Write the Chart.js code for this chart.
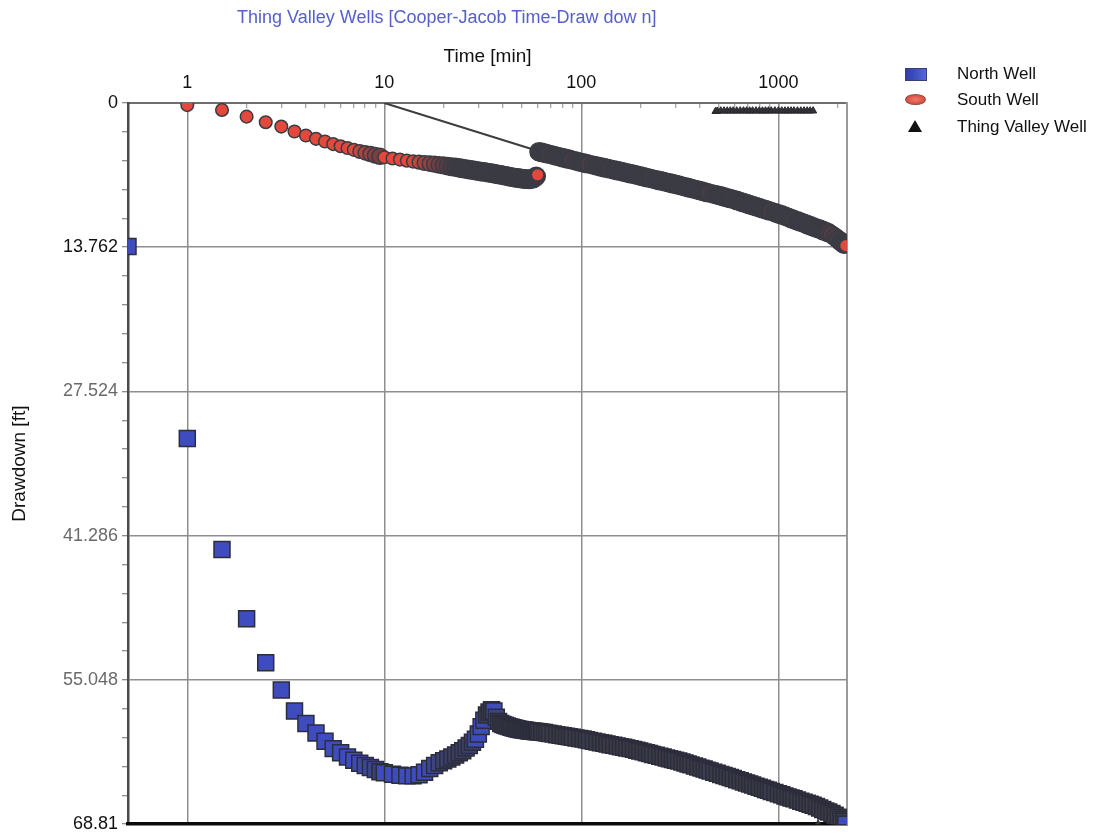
<!DOCTYPE html>
<html>
<head>
<meta charset="utf-8">
<script src="https://cdn.jsdelivr.net/npm/chart.js@4.4.0/dist/chart.umd.min.js"></script>
<style>
  body { margin: 0; background: #fff; font-family: "Liberation Sans", Arial, sans-serif; }
  #wrap { position: relative; width: 1117px; height: 837px; }
  #title { position: absolute; left: 237px; top: 7px; font-size: 18px; color: #5560cc; white-space: nowrap; }
  .item { position: absolute; left: 957px; font-size: 17px; color: #111; white-space: nowrap; line-height: 20px; }
  .mark { position: absolute; }
</style>
</head>
<body>
<div id="wrap">
  <canvas id="chart"></canvas>
  <div id="title">Thing Valley Wells [Cooper-Jacob Time-Draw dow n]</div>
  <div id="legend"></div>
</div>
<script>
// time in minutes (same sampling for North and South wells)
const times = [0.5, 1, 1.5, 2, 2.5, 3, 3.5, 4, 4.5, 5, 5.5, 6, 6.5, 7, 7.5, 8, 8.5, 9, 9.5, 10,
  11, 12, 13, 14, 15, 16, 17, 18, 19, 20, 21, 22, 23, 24, 25, 26, 27, 28, 29, 30,
  31, 32, 33, 34, 35, 36, 37, 38, 39, 40, 41, 42, 43, 44, 45, 46, 47, 48, 49, 50,
  51, 52, 53, 54, 55, 56, 57, 58, 59, 60,
  61, 63, 65, 67, 69, 72, 75, 78, 81, 84, 87, 90, 94, 98, 102, 106, 110, 115, 120, 125,
  130, 135, 140, 146, 152, 158, 164, 170, 177, 184, 191, 198, 206, 214, 222, 230, 240, 250, 260, 270,
  280, 290, 300, 312, 324, 336, 348, 360, 375, 390, 405, 420, 435, 450, 470, 490, 510, 530, 550, 570,
  590, 615, 640, 665, 690, 715, 740, 770, 800, 830, 860, 890, 920, 960, 1000, 1040, 1080, 1120, 1160, 1200,
  1250, 1300, 1350, 1400, 1450, 1500, 1560, 1620, 1680, 1740, 1800, 1870, 1940, 2010, 2080, 2150, 2200];

const northDrawdown = [13.7, 32.0, 42.6, 49.2, 53.4, 56.0, 58.0, 59.2, 60.1, 60.9, 61.6, 62.0, 62.4, 62.7, 63.0, 63.2, 63.4, 63.6, 63.8, 63.9,
  64.05, 64.15, 64.2, 64.2, 64.1, 63.85, 63.5, 63.2, 62.95, 62.75, 62.6, 62.4, 62.2, 62.0, 61.8, 61.55, 61.3, 61.0, 60.7, 60.2,
  59.5, 58.9, 58.4, 58.1, 57.9, 58.0, 58.6, 59.0, 59.2, 59.3, 59.37, 59.45, 59.5, 59.55, 59.6, 59.65, 59.7, 59.75, 59.78, 59.8,
  59.83, 59.85, 59.88, 59.9, 59.92, 59.93, 59.95, 59.96, 59.97, 59.98,
  60.0, 60.03, 60.07, 60.12, 60.16, 60.21, 60.27, 60.32, 60.37, 60.42, 60.47, 60.52, 60.58, 60.64, 60.69, 60.76, 60.82, 60.89, 60.96, 61.03,
  61.09, 61.15, 61.22, 61.28, 61.35, 61.41, 61.47, 61.53, 61.6, 61.67, 61.76, 61.83, 61.91, 62.0, 62.07, 62.15, 62.23, 62.32, 62.4, 62.49,
  62.56, 62.64, 62.71, 62.79, 62.88, 62.97, 63.07, 63.15, 63.26, 63.36, 63.46, 63.55, 63.65, 63.73, 63.85, 63.95, 64.06, 64.16, 64.26, 64.35,
  64.45, 64.56, 64.66, 64.78, 64.87, 64.98, 65.07, 65.18, 65.29, 65.39, 65.49, 65.58, 65.68, 65.79, 65.91, 66.01, 66.11, 66.21, 66.3, 66.39,
  66.5, 66.61, 66.71, 66.81, 66.9, 67.0, 67.13, 67.27, 67.4, 67.54, 67.65, 67.79, 67.96, 68.15, 68.34, 68.52, 68.81];

const southDrawdown = [null, 0.2, 0.66, 1.3, 1.83, 2.25, 2.72, 3.1, 3.42, 3.67, 3.92, 4.12, 4.3, 4.47, 4.62, 4.75, 4.87, 4.98, 5.08, 5.18,
  5.3, 5.4, 5.5, 5.58, 5.65, 5.72, 5.78, 5.84, 5.9, 5.96, 6.02, 6.08, 6.14, 6.19, 6.25, 6.3, 6.35, 6.4, 6.45, 6.5,
  6.54, 6.58, 6.62, 6.66, 6.7, 6.74, 6.78, 6.82, 6.86, 6.9, 6.94, 6.98, 7.02, 7.06, 7.09, 7.12, 7.15, 7.17, 7.2, 7.22,
  7.24, 7.26, 7.27, 7.28, 7.28, 7.25, 7.2, 7.12, 7.0, 6.85,
  4.65, 4.72, 4.78, 4.84, 4.9, 4.99, 5.08, 5.15, 5.24, 5.31, 5.38, 5.45, 5.54, 5.63, 5.7, 5.77, 5.85, 5.93, 6.01, 6.09,
  6.16, 6.23, 6.3, 6.38, 6.45, 6.52, 6.6, 6.66, 6.74, 6.81, 6.88, 6.95, 7.03, 7.11, 7.18, 7.25, 7.33, 7.41, 7.48, 7.56,
  7.63, 7.7, 7.76, 7.84, 7.92, 7.99, 8.07, 8.14, 8.23, 8.31, 8.39, 8.47, 8.54, 8.61, 8.7, 8.79, 8.87, 8.96, 9.04, 9.11,
  9.2, 9.3, 9.41, 9.51, 9.6, 9.7, 9.79, 9.89, 9.98, 10.09, 10.17, 10.27, 10.35, 10.46, 10.57, 10.68, 10.79, 10.91, 11.02, 11.12,
  11.25, 11.37, 11.48, 11.6, 11.7, 11.81, 11.93, 12.04, 12.16, 12.27, 12.38, 12.55, 12.79, 13.02, 13.25, 13.46, 13.61];

const tvTime = [480, 490, 510, 530, 550, 570, 590, 615, 640, 665, 690, 715, 740, 770, 800, 830, 860, 890, 920, 960, 1000,
  1040, 1080, 1120, 1160, 1200, 1250, 1300, 1350, 1400, 1450, 1500, 1590];
const tvDrawdown = [0.8, 0.78, 0.75, 0.75, 0.76, 0.75, 0.75, 0.76, 0.75, 0.75, 0.75, 0.76, 0.75, 0.75, 0.75, 0.76, 0.75, 0.75, 0.75, 0.75, 0.75,
  0.75, 0.76, 0.75, 0.75, 0.75, 0.75, 0.76, 0.75, 0.75, 0.75, 0.75, 68.81];

// Cooper-Jacob straight line through the South Well data
const cjTime = [10, 62];
const cjDrawdown = [0, 4.65];

const xMajor = [1, 10, 100, 1000];
const yMajor = [0, 13.762, 27.524, 41.286, 55.048, 68.81];

function pairs(xs, ys) {
  const out = [];
  xs.forEach((x, i) => { if (ys[i] != null) out.push({ x: x, y: ys[i] }); });
  return out;
}

const xTicks = [];
xMajor.forEach(d => { for (let m = 1; m <= 9; m++) if (m * d <= 2230) xTicks.push(m * d); });
const yStep = yMajor[1] / 5;
const yTicks = [];
yMajor.forEach((v, i) => {
  yTicks.push(v);
  if (i < yMajor.length - 1) for (let j = 1; j < 5; j++) yTicks.push(v + j * yStep);
});

const isXMajor = v => xMajor.indexOf(v) >= 0;
const yMajorIndex = v => yMajor.findIndex(m => Math.abs(m - v) < 1e-6);

// overplotted markers merge into a dark band, like the original plot
// k = 1 for a free-standing marker, 0 when the next one sits right on top of it
function crowdK(ctx) {
  const data = ctx.dataset.data;
  const p = data[ctx.dataIndex], q = data[ctx.dataIndex + 1];
  if (!p || !q) return 1;
  const sx = ctx.chart.scales.x, sy = ctx.chart.scales.y;
  const gap = Math.hypot(sx.getPixelForValue(q.x) - sx.getPixelForValue(p.x),
                         sy.getPixelForValue(q.y) - sy.getPixelForValue(p.y));
  return Math.min(1, Math.max(0, (gap - 3.6) / 2.5));
}
const dark = [58, 59, 68];
function shade(rgb) {
  return (ctx) => {
    const k = crowdK(ctx);
    const c = rgb.map((v, i) => Math.round(dark[i] + (v - dark[i]) * k));
    return 'rgb(' + c.join(',') + ')';
  };
}

const font = { family: '"Liberation Sans", Arial, sans-serif', size: 18 };
const titleFont = { family: '"Liberation Sans", Arial, sans-serif', size: 19 };

const chart = new Chart(document.getElementById('chart'), {
  type: 'scatter',
  data: {
    datasets: [
      {
        label: 'Thing Valley Well',
        data: pairs(tvTime, tvDrawdown),
        pointStyle: 'triangle',
        pointRadius: 4.2,
        pointBackgroundColor: '#34343a',
        pointBorderColor: '#26262c',
        pointBorderWidth: 1,
        order: 0
      },
      {
        label: 'South Well',
        data: pairs(times, southDrawdown),
        pointStyle: 'circle',
        pointRadius: ctx => 6.3 + 2.8 * (1 - crowdK(ctx)),
        pointBackgroundColor: shade([226, 72, 60]),
        pointBorderColor: '#3b3b44',
        pointBorderWidth: 1.5,
        order: 1
      },
      {
        label: 'North Well',
        data: pairs(times, northDrawdown),
        pointStyle: 'rect',
        pointRadius: 11.3,
        pointBackgroundColor: shade([62, 76, 192]),
        pointBorderColor: '#2c2d3c',
        pointBorderWidth: 1.5,
        order: 2
      },
      {
        label: 'Cooper-Jacob line',
        type: 'line',
        data: pairs(cjTime, cjDrawdown),
        borderColor: '#3d3d3d',
        borderWidth: 2,
        pointRadius: 0,
        order: 5
      }
    ]
  },
  options: {
    responsive: true,
    maintainAspectRatio: false,
    animation: false,
    events: [],
    layout: { padding: { top: 40, left: 0, right: 270, bottom: 9 } },
    plugins: { legend: { display: false }, tooltip: { enabled: false } },
    scales: {
      x: {
        type: 'logarithmic',
        position: 'top',
        min: 0.5,
        max: 2230,
        afterFit: s => { s.height = 63; s.paddingLeft = 0; s.paddingRight = 0; },
        afterBuildTicks: s => { s.ticks = xTicks.map(v => ({ value: v })); },
        ticks: {
          autoSkip: false, maxRotation: 0, padding: 14, color: '#111', font: font,
          callback: v => isXMajor(v) ? String(v) : ''
        },
        grid: {
          color: c => isXMajor(c.tick && c.tick.value) ? '#8e8e8e' : 'rgba(0,0,0,0)',
          lineWidth: 1.5, tickLength: -5, tickColor: '#8a8a8a', tickWidth: 1
        },
        border: { color: '#6e6e6e', width: 2 },
        title: { display: true, text: 'Time [min]', color: '#111', font: titleFont, padding: { top: 5, bottom: 0 } }
      },
      y: {
        type: 'linear',
        reverse: true,
        min: 0,
        max: 68.81,
        afterFit: s => { s.width = 128; s.paddingTop = 0; s.paddingBottom = 0; },
        afterBuildTicks: s => { s.ticks = yTicks.map(v => ({ value: v })); },
        ticks: {
          autoSkip: false, padding: 4, font: font,
          color: c => [2, 3, 4].indexOf(yMajorIndex(c.tick.value)) >= 0 ? '#6a6a6a' : '#111',
          callback: v => { const i = yMajorIndex(v); return i >= 0 ? String(yMajor[i]) : ''; }
        },
        grid: {
          color: c => yMajorIndex(c.tick ? c.tick.value : -1) >= 0 ? '#8e8e8e' : 'rgba(0,0,0,0)',
          lineWidth: 1.5, tickLength: 6, tickColor: '#6a6a6a', tickWidth: 1
        },
        border: { color: '#4a4a4a', width: 2.5 },
        title: { display: true, text: 'Drawdown [ft]', color: '#111', font: titleFont, padding: { top: 8, bottom: 0 } }
      },
      x2: {
        type: 'linear', position: 'bottom', min: 0, max: 1,
        afterFit: s => { s.height = 0; },
        ticks: { display: false },
        grid: { display: false, drawTicks: false },
        border: { color: '#0a0a0a', width: 3.5 }
      },
      y2: {
        type: 'linear', position: 'right', min: 0, max: 1,
        afterFit: s => { s.width = 0; },
        ticks: { display: false },
        grid: { display: false, drawTicks: false },
        border: { color: '#9a9a9a', width: 2 }
      }
    }
  }
});

// legend, same order as the original
const legendMarks = {
  'North Well': 'width:20px;height:11px;background:linear-gradient(90deg,#2f3ca8,#5566d8);border:1px solid #3a3f70;',
  'South Well': 'width:19px;height:9px;border-radius:50%;background:radial-gradient(#f07a6a,#d0392e);border:1px solid #8a4a4a;',
  'Thing Valley Well': 'width:0;height:0;border-left:7px solid transparent;border-right:7px solid transparent;border-bottom:12px solid #111;'
};
const legendOrder = ['North Well', 'South Well', 'Thing Valley Well'];
const legendRowY = [74, 100, 127];
const legendEl = document.getElementById('legend');
legendOrder.forEach((name, i) => {
  const ds = chart.data.datasets.find(d => d.label === name);
  const item = document.createElement('div');
  item.className = 'item';
  item.style.top = (legendRowY[i] - 10) + 'px';
  item.textContent = ds.label;
  const mark = document.createElement('div');
  mark.className = 'mark';
  mark.style.cssText = legendMarks[name] + 'left:' + (name === 'Thing Valley Well' ? -49 : -52) + 'px;top:' + (name === 'Thing Valley Well' ? 3 : 4) + 'px;';
  item.appendChild(mark);
  legendEl.appendChild(item);
});
</script>
</body>
</html>
